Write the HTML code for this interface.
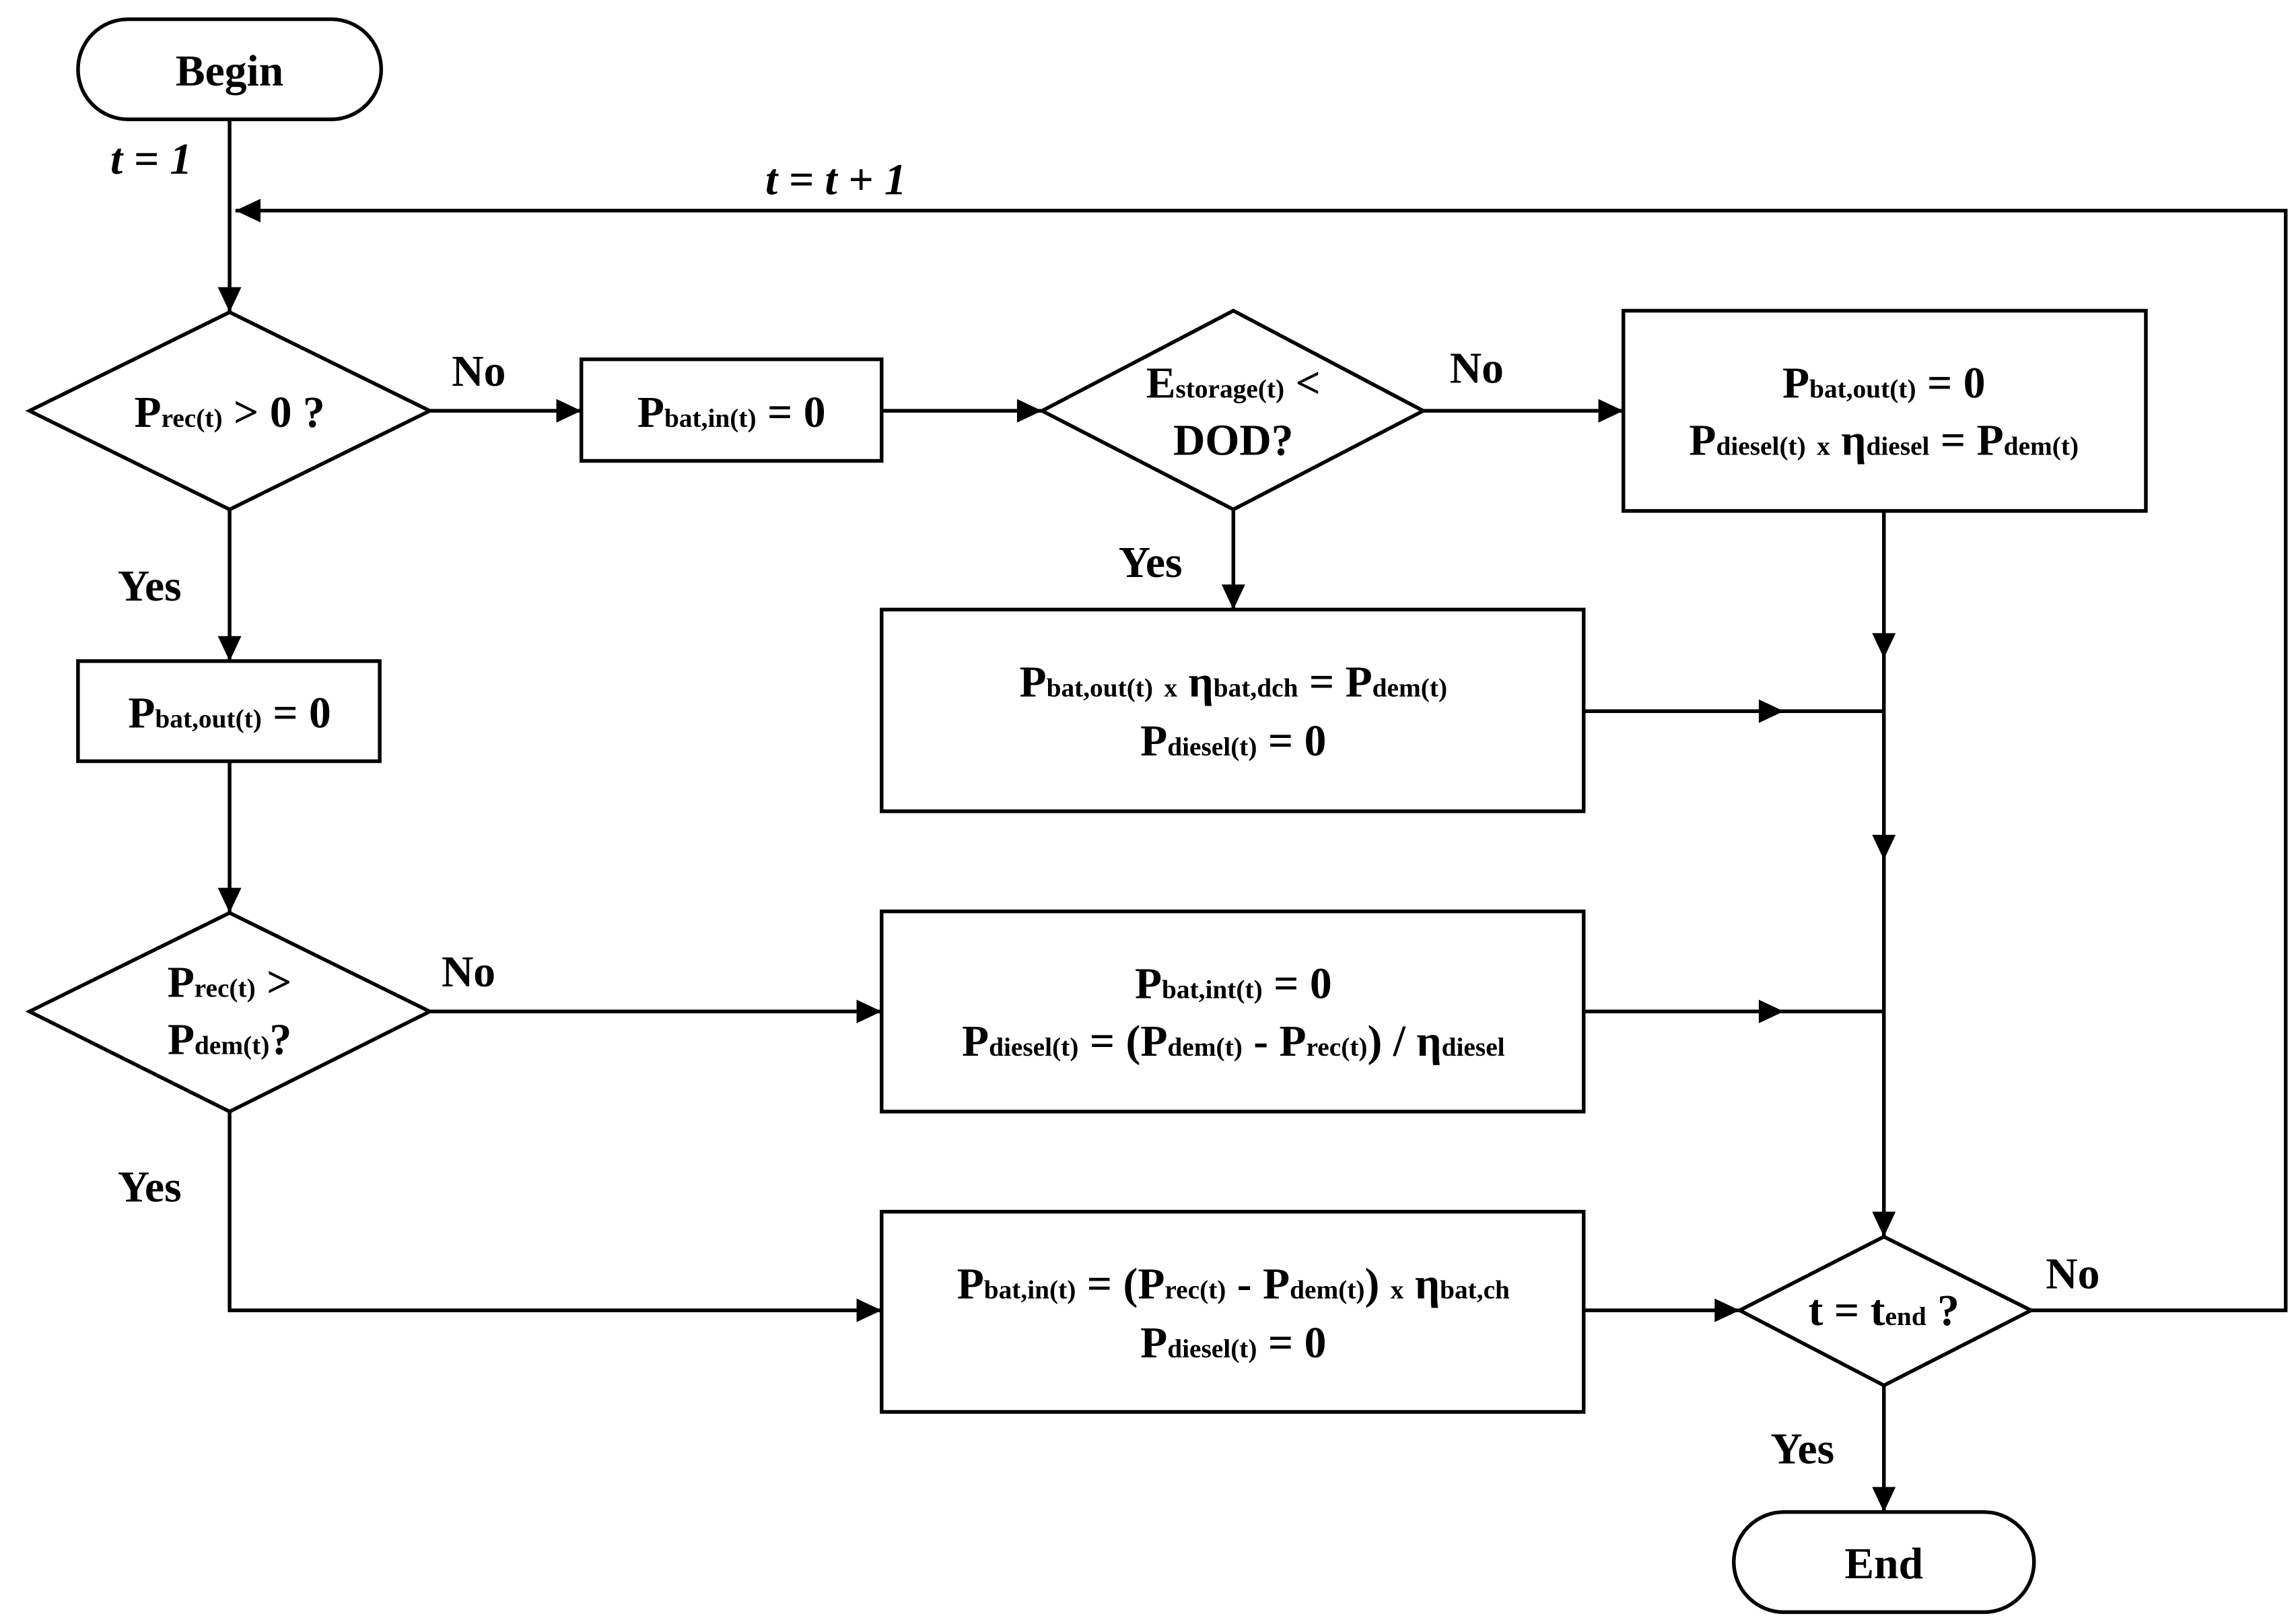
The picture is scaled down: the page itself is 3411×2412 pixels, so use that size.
<!DOCTYPE html>
<html><head><meta charset="utf-8"><style>
html,body{margin:0;padding:0;background:#fff;}
svg{display:block}
text{font-family:"Liberation Serif",serif;font-weight:bold;fill:#000;}
.s{font-size:18px;}
</style></head><body>
<svg width="3411" height="2412" viewBox="0 0 1560 1103" xmlns="http://www.w3.org/2000/svg">
<defs>
<marker id="a" markerWidth="10" markerHeight="8" refX="9" refY="4" orient="auto" markerUnits="userSpaceOnUse" viewBox="0 0 10 8">
</marker>
</defs>
<g fill="none" stroke="#000" stroke-width="2.5">
<rect x="53" y="13" width="206" height="68" rx="34"/>
<rect x="1178" y="1027" width="204" height="68" rx="34"/>
<polygon points="20,279 156,212 292,279 156,346"/>
<polygon points="708,279 838,211 967,279 838,346"/>
<polygon points="20,687 156,620 292,687 156,755"/>
<polygon points="1182,890 1280,840 1380,890 1280,941"/>
<rect x="395" y="244" width="204" height="69"/>
<rect x="1103" y="211" width="355" height="136"/>
<rect x="599" y="414" width="477" height="137"/>
<rect x="53" y="449" width="205" height="68"/>
<rect x="599" y="619" width="477" height="136"/>
<rect x="599" y="823" width="477" height="136"/>
<polyline points="156,81 156,212"/>
<polyline points="1380,890 1553,890 1553,143 160,143"/>
<polyline points="292,279 395,279"/>
<polyline points="599,279 708,279"/>
<polyline points="967,279 1103,279"/>
<polyline points="838,346 838,414"/>
<polyline points="156,346 156,449"/>
<polyline points="156,517 156,620"/>
<polyline points="292,687 599,687"/>
<polyline points="156,755 156,890 599,890"/>
<polyline points="1280,347 1280,840"/>
<polyline points="1076,483 1280,483"/>
<polyline points="1076,687 1280,687"/>
<polyline points="1076,890 1182,890"/>
<polyline points="1280,941 1280,1027"/>
</g>
<g fill="#000">
<!-- down arrows -->
<polygon points="148,195 164,195 156,212"/>
<polygon points="148,432 164,432 156,449"/>
<polygon points="148,603 164,603 156,620"/>
<polygon points="830,397 846,397 838,414"/>
<polygon points="1272,430 1288,430 1280,447"/>
<polygon points="1272,567 1288,567 1280,584"/>
<polygon points="1272,823 1288,823 1280,840"/>
<polygon points="1272,1010 1288,1010 1280,1027"/>
<!-- right arrows -->
<polygon points="378,271 378,287 395,279"/>
<polygon points="691,271 691,287 708,279"/>
<polygon points="1086,271 1086,287 1103,279"/>
<polygon points="582,679 582,695 599,687"/>
<polygon points="582,882 582,898 599,890"/>
<polygon points="1165,882 1165,898 1182,890"/>
<polygon points="1195,475 1195,491 1212,483"/>
<polygon points="1195,679 1195,695 1212,687"/>
<!-- left arrow -->
<polygon points="177,135 177,151 160,143"/>
</g>
<g font-size="30">
<text x="156" y="58" text-anchor="middle">Begin</text>
<text x="1280" y="1072" text-anchor="middle">End</text>
<text x="75" y="118" font-style="italic">t = 1</text>
<text x="520" y="132" font-style="italic">t = t + 1</text>
<text x="307" y="262">No</text>
<text x="985" y="260">No</text>
<text x="300" y="670">No</text>
<text x="1390" y="875">No</text>
<text x="80" y="408">Yes</text>
<text x="760" y="392">Yes</text>
<text x="80" y="816">Yes</text>
<text x="1203" y="994">Yes</text>

<text x="156" y="290" text-anchor="middle">P<tspan class="s">rec(t)</tspan> &gt; 0 ?</text>
<text x="497" y="290" text-anchor="middle">P<tspan class="s">bat,in(t)</tspan> = 0</text>
<text x="838" y="270" text-anchor="middle">E<tspan class="s">storage(t)</tspan> &lt;</text>
<text x="838" y="309" text-anchor="middle">DOD?</text>
<text x="1280" y="270" text-anchor="middle">P<tspan class="s">bat,out(t)</tspan> = 0</text>
<text x="1280" y="309" text-anchor="middle">P<tspan class="s">diesel(t)</tspan> <tspan class="s">x</tspan> η<tspan class="s">diesel</tspan> = P<tspan class="s">dem(t)</tspan></text>
<text x="838" y="473" text-anchor="middle">P<tspan class="s">bat,out(t)</tspan> <tspan class="s">x</tspan> η<tspan class="s">bat,dch</tspan> = P<tspan class="s">dem(t)</tspan></text>
<text x="838" y="513" text-anchor="middle">P<tspan class="s">diesel(t)</tspan> = 0</text>
<text x="156" y="494" text-anchor="middle">P<tspan class="s">bat,out(t)</tspan> = 0</text>
<text x="156" y="677" text-anchor="middle">P<tspan class="s">rec(t)</tspan> &gt;</text>
<text x="156" y="716" text-anchor="middle">P<tspan class="s">dem(t)</tspan>?</text>
<text x="838" y="678" text-anchor="middle">P<tspan class="s">bat,int(t)</tspan> = 0</text>
<text x="838" y="717" text-anchor="middle">P<tspan class="s">diesel(t)</tspan> = (P<tspan class="s">dem(t)</tspan> - P<tspan class="s">rec(t)</tspan>) / η<tspan class="s">diesel</tspan></text>
<text x="838" y="882" text-anchor="middle">P<tspan class="s">bat,in(t)</tspan> = (P<tspan class="s">rec(t)</tspan> - P<tspan class="s">dem(t)</tspan>) <tspan class="s">x</tspan> η<tspan class="s">bat,ch</tspan></text>
<text x="838" y="922" text-anchor="middle">P<tspan class="s">diesel(t)</tspan> = 0</text>
<text x="1280" y="900" text-anchor="middle">t = t<tspan class="s">end</tspan> ?</text>
</g>
</svg>
</body></html>
